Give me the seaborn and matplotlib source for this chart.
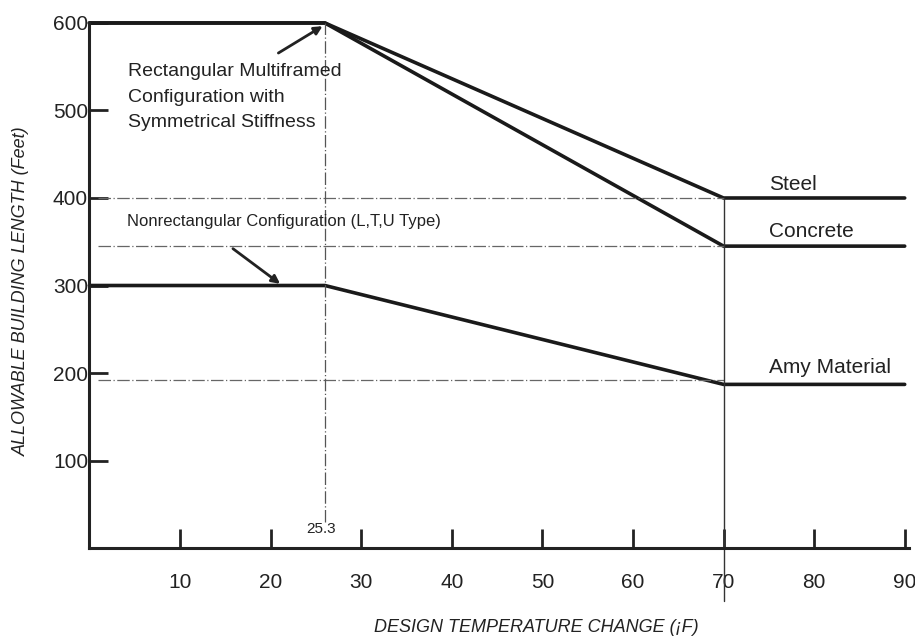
import matplotlib
matplotlib.use("Agg")
import matplotlib.pyplot as plt
from matplotlib import font_manager
import seaborn as sns
import pandas as pd

# ---- data ----
knee_x = 26
steel_x = [0, 26, 70, 90]
steel_y = [600, 600, 400, 400]
concrete_x = [0, 26, 70, 90]
concrete_y = [600, 600, 345, 345]
nonrect_x = [0, 26, 70, 90]
nonrect_y = [300, 300, 187, 187]
ref_levels = [400, 345, 192]
x_ticks = [10, 20, 30, 40, 50, 60, 70, 80, 90]
y_ticks = [100, 200, 300, 400, 500, 600]
series_labels = ["Steel", "Concrete", "Amy Material"]

sns.set_style("white")
names = {f.name for f in font_manager.fontManager.ttflist}
narrow = "Liberation Sans Narrow" if "Liberation Sans Narrow" in names else "Liberation Sans"
plt.rcParams["font.family"] = [narrow, "DejaVu Sans"]

fig = plt.figure(figsize=(9.15, 6.38), dpi=100)
ax = fig.add_axes([0.0977, 0.141, 0.896, 0.823])

df = pd.concat([
    pd.DataFrame({"x": steel_x, "y": steel_y, "s": "Steel"}),
    pd.DataFrame({"x": concrete_x, "y": concrete_y, "s": "Concrete"}),
    pd.DataFrame({"x": nonrect_x, "y": nonrect_y, "s": "Amy Material"}),
])
sns.lineplot(data=df, x="x", y="y", units="s", estimator=None, color="#1a1a1a",
             lw=2.6, ax=ax, legend=False, sort=False, clip_on=False)

# reference dash-dot lines
for lv in ref_levels:
    ax.plot([1, 70], [lv, lv], color="#666666", lw=0.9, ls=(0, (10, 2, 1, 2)))
ax.plot([knee_x, knee_x], [30, 600], color="#555555", lw=0.9, ls=(0, (10, 2, 1, 2)))
ax.plot([70, 70], [-60, 400], color="#333333", lw=1.0, clip_on=False)

ax.set_xlim(0, 90.5)
ax.set_ylim(0, 600)
ax.set_xticks(x_ticks)
ax.set_yticks(y_ticks)
ax.tick_params(axis="both", direction="in", length=14, width=2, color="#222222",
               labelsize=15, labelcolor="#222222", bottom=True, left=True)
ax.tick_params(axis="x", pad=18)
ax.tick_params(axis="y", pad=1)
for sp in ["top", "right"]:
    ax.spines[sp].set_visible(False)
for sp in ["left", "bottom"]:
    ax.spines[sp].set_linewidth(2.2)
    ax.spines[sp].set_color("#222222")

ax.set_xlabel("DESIGN TEMPERATURE CHANGE (¡F)", fontsize=13, style="italic",
              color="#222222")
ax.xaxis.set_label_coords(0.545, -0.135)
ax.set_ylabel("ALLOWABLE BUILDING LENGTH (Feet)", fontsize=13, style="italic",
              color="#222222")
ax.yaxis.set_label_coords(-0.072, 0.49)

# labels
ax.text(75.0, 415, series_labels[0], fontsize=15, color="#222222", va="center")
ax.text(75.0, 362, series_labels[1], fontsize=15, color="#222222", va="center")
ax.text(75.0, 206, series_labels[2], fontsize=15, color="#222222", va="center")

ax.text(4.3, 515, "Rectangular Multiframed\nConfiguration with\nSymmetrical Stiffness",
        fontsize=14, color="#222222", va="center", linespacing=1.65)
ax.annotate("", xy=(26.0, 598), xytext=(20.6, 564),
            arrowprops=dict(arrowstyle="-|>", color="#222222", lw=2, mutation_scale=12))
ax.text(4.2, 373, "Nonrectangular Configuration (L,T,U Type)", fontsize=12,
        color="#222222", va="center")
ax.annotate("", xy=(21.3, 300), xytext=(15.6, 344),
            arrowprops=dict(arrowstyle="-|>", color="#222222", lw=2, mutation_scale=12))

ax.text(25.6, 14, "25.3", fontsize=11, color="#222222", ha="center", va="bottom")

fig.savefig("out.png", dpi=100, facecolor="white")
